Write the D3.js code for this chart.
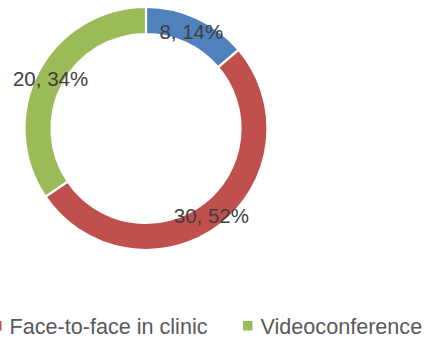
<!DOCTYPE html>
<html>
<head>
<meta charset="utf-8">
<script src="https://cdn.jsdelivr.net/npm/d3@7"></script>
<style>
  html, body { margin: 0; padding: 0; background: #fff; overflow: hidden; }
  svg { display: block; }
</style>
</head>
<body>
<svg id="chart" width="425" height="338"></svg>
<script>
// Consultation mode counts
const categories = ["Telephone", "Face-to-face in clinic", "Videoconference"];
const values = [8, 30, 20];
const colors = ["#4F81BD", "#C0504D", "#9BBB59"];

const W = 425, H = 338;
const cx = 146, cy = 128.5;
const outerR = 121.5, innerR = 94.5;

const svg = d3.select("#chart");
const total = d3.sum(values);

const pie = d3.pie().sort(null).value(d => d.value);
const arcs = pie(values.map((v, i) => ({ name: categories[i], value: v, color: colors[i] })));

const arc = d3.arc().innerRadius(innerR).outerRadius(outerR);
const labelArc = d3.arc().innerRadius(108).outerRadius(108);

const g = svg.append("g").attr("transform", `translate(${cx},${cy})`);

g.selectAll("path.slice")
  .data(arcs)
  .join("path")
  .attr("class", "slice")
  .attr("d", arc)
  .attr("fill", d => d.data.color)
  .attr("stroke", "#fff")
  .attr("stroke-width", 2.2);

// Data labels: "value, percent" at each slice centroid
g.selectAll("text.label")
  .data(arcs)
  .join("text")
  .attr("class", "label")
  .attr("x", d => labelArc.centroid(d)[0])
  .attr("y", d => labelArc.centroid(d)[1])
  .attr("dy", "0.4em")
  .attr("text-anchor", "middle")
  .attr("font-family", "Liberation Sans, Arial, sans-serif")
  .attr("font-size", 20.5)
  .attr("fill", "#404040")
  .text(d => `${d.data.value}, ${Math.round(d.data.value / total * 100)}%`);

// Legend row along the bottom
const legendItems = arcs.slice(1).map(d => d.data);
const legend = svg.append("g").attr("transform", "translate(0,326)");
const xPos = [-8, 243];
legendItems.forEach((d, i) => {
  const item = legend.append("g").attr("transform", `translate(${xPos[i]},0)`);
  item.append("rect")
    .attr("x", 0).attr("y", -5)
    .attr("width", 9.5).attr("height", 9.5)
    .attr("fill", d.color);
  item.append("text")
    .attr("x", 17.5).attr("y", 0)
    .attr("dy", "0.36em")
    .attr("font-family", "Liberation Sans, Arial, sans-serif")
    .attr("font-size", 21.6)
    .attr("fill", "#595959")
    .text(d.name);
});
</script>
</body>
</html>
